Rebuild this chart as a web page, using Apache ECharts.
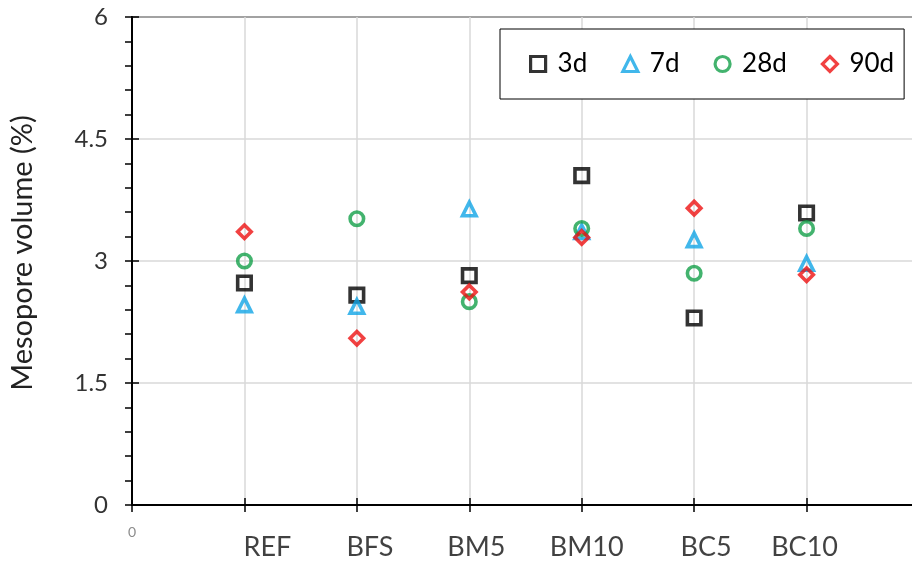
<!DOCTYPE html>
<html>
<head>
<meta charset="utf-8">
<script src="https://cdn.jsdelivr.net/npm/echarts@6/dist/echarts.min.js"></script>
<style>
  html, body { margin: 0; padding: 0; background: #fff; overflow: hidden; }
  #chart { width: 922px; height: 563px; }
</style>
</head>
<body>
<div id="chart"></div>
<script>
// Mixes and mesopore volume (%) at each curing age
const categories = ['REF', 'BFS', 'BM5', 'BM10', 'BC5', 'BC10'];
const vol3d  = [2.73, 2.58, 2.82, 4.05, 2.30, 3.59];
const vol7d  = [2.46, 2.44, 3.64, 3.36, 3.26, 2.97];
const vol28d = [3.00, 3.52, 2.50, 3.40, 2.85, 3.40];
const vol90d = [3.36, 2.05, 2.62, 3.29, 3.65, 2.83];
const ageNames = ['3d', '7d', '28d', '90d'];

// Horizontal nudges for the mix names under the axis
const nameShift = [23, 13, 7, 5, 12, -2];

const FONT = 'Lato';
const GRID_GRAY = '#d9d9d9';

function points(values) {
  return values.map((v, i) => [i + 1, v]);
}

function ageSeries(name, values, symbol, color) {
  return {
    name: name,
    type: 'scatter',
    symbol: symbol,
    symbolSize: 13.5,
    data: points(values),
    itemStyle: { color: 'rgba(0,0,0,0)', borderColor: color, borderWidth: 3.6 },
    emphasis: { disabled: true },
    z: 5
  };
}

const chart = echarts.init(document.getElementById('chart'), null, { renderer: 'canvas' });

chart.setOption({
  animation: false,
  textStyle: { fontFamily: FONT },
  grid: {
    left: 132, right: 0, top: 17, bottom: 58,
    show: true, borderColor: '#000', borderWidth: 2, backgroundColor: 'transparent'
  },
  legend: {
    data: ageNames,
    left: 500, top: 29,
    width: 440,
    orient: 'horizontal',
    itemWidth: 15, itemHeight: 15, itemGap: 34,
    padding: [22, 10, 22, 29],
    borderColor: '#000', borderWidth: 1,
    backgroundColor: '#fff',
    itemStyle: { borderWidth: 3.2 },
    textStyle: { fontFamily: FONT, fontSize: 26, color: '#000', padding: [0, 0, 0, 7] },
    selectedMode: false,
    z: 10
  },
  xAxis: [
    {
      type: 'value', min: 0, max: 7, interval: 1,
      position: 'bottom',
      axisLine: { show: true, lineStyle: { color: '#000', width: 2 } },
      axisTick: { show: true, inside: false, length: 7, lineStyle: { color: '#000', width: 1.5 } },
      splitLine: { show: true, lineStyle: { color: GRID_GRAY, width: 1.5 } },
      axisLabel: {
        formatter: v => (v === 0 ? '0' : ''),
        fontFamily: FONT, fontSize: 14, color: '#8c8c8c', margin: 20
      }
    },
    {
      type: 'value', min: 0, max: 7, interval: 1,
      position: 'bottom',
      axisLine: { show: false },
      axisTick: { show: true, inside: true, length: 7, lineStyle: { color: '#000', width: 1.5 } },
      splitLine: { show: false },
      axisLabel: { show: false }
    }
  ],
  yAxis: [
    {
      type: 'value', min: 0, max: 6, interval: 1.5,
      position: 'left',
      name: 'Mesopore volume (%)',
      nameLocation: 'middle',
      nameGap: 95,
      nameTextStyle: { fontFamily: FONT, fontSize: 29, color: '#222', padding: [0, 0, 0, 16] },
      axisLine: { show: true, lineStyle: { color: '#000', width: 2 } },
      axisTick: { show: true, inside: false, length: 7, lineStyle: { color: '#000', width: 1.5 } },
      minorTick: { show: true, splitNumber: 5, length: 7, lineStyle: { color: '#000', width: 1.5 } },
      splitLine: { show: true, lineStyle: { color: GRID_GRAY, width: 1.5 } },
      axisLabel: { fontFamily: FONT, fontSize: 24, color: '#333', margin: 24 }
    },
    {
      type: 'value', min: 0, max: 6, interval: 1.5,
      position: 'left',
      axisLine: { show: false },
      axisTick: { show: true, inside: true, length: 7, lineStyle: { color: '#000', width: 1.5 } },
      splitLine: { show: false },
      axisLabel: { show: false }
    }
  ],
  series: [
    ageSeries(ageNames[0], vol3d, 'rect', '#000000'),
    ageSeries(ageNames[1], vol7d, 'triangle', '#12a5e6'),
    ageSeries(ageNames[2], vol28d, 'circle', '#14a04a'),
    ageSeries(ageNames[3], vol90d, 'diamond', '#ee1111'),
    {
      // mix names written under the x axis
      name: 'mixes',
      type: 'scatter',
      symbolSize: 0,
      silent: true,
      clip: false,
      data: categories.map((c, i) => ({
        value: [i + 1, 0],
        label: { offset: [nameShift[i], 42] }
      })),
      label: {
        show: true,
        position: 'inside',
        formatter: p => categories[p.dataIndex],
        fontFamily: FONT, fontSize: 27, color: '#111'
      },
      z: 6
    }
  ]
});
</script>
</body>
</html>
